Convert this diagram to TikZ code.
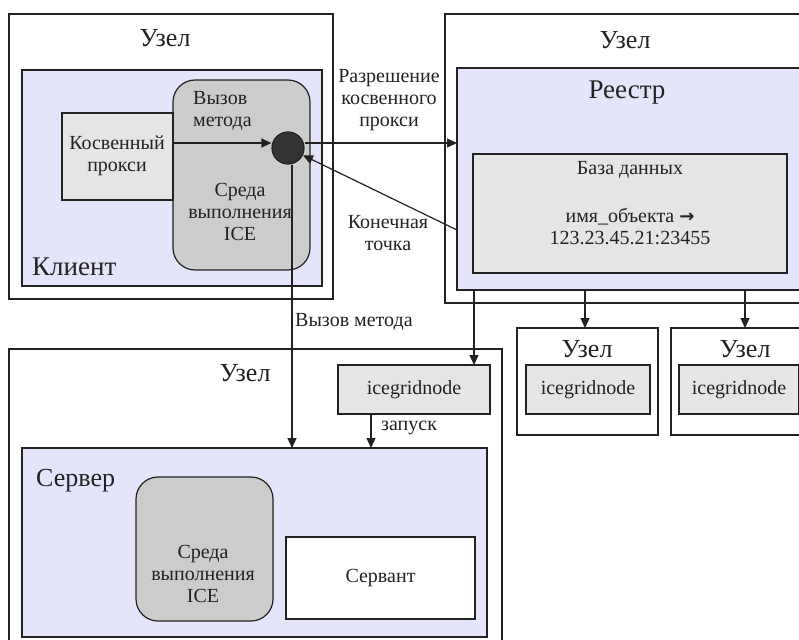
\documentclass[tikz,border=0pt]{standalone}
\usepackage{fontspec}
\setmainfont{Liberation Serif}
\newfontfamily\symfont{DejaVu Sans}
\usetikzlibrary{arrows.meta,calc}
\definecolor{lav}{RGB}{228,228,250}
\definecolor{lgray}{RGB}{229,229,229}
\definecolor{mgray}{RGB}{204,204,204}
\definecolor{dgray}{RGB}{51,51,51}
\definecolor{ink}{RGB}{34,34,34}
\tikzset{
 box/.style={draw=ink, line width=1.2pt, inner sep=0pt, outer sep=0pt, anchor=north west},
 nodebox/.style={box, fill=white},
 lavbox/.style={box, fill=lav},
 graybox/.style={box, fill=lgray},
 rtbox/.style={box, fill=mgray, rounded corners=22pt},
 arr/.style={draw=ink, line width=1.2pt, -{Triangle[length=10pt,width=9pt]}},
 txt/.style={text=ink, font=\fontsize{20}{22}\selectfont, inner sep=0pt, align=center},
 big/.style={text=ink, font=\fontsize{26}{28}\selectfont, inner sep=0pt},
}
\begin{document}
\begin{tikzpicture}[x=1pt,y=-1pt]
\useasboundingbox (0,0) rectangle (799,639);
\clip (0,0) rectangle (799,639);
% client node
\node[nodebox, minimum width=324pt, minimum height=285pt] (cnode) at (9,14) {};
\node[big] (cnodet) at (165,38) {Узел};
\node[lavbox, minimum width=300pt, minimum height=216pt] (client) at (22,70) {};
\node[big, anchor=west, font=\fontsize{27}{28}\selectfont] (clientt) at (32,267) {Клиент};
\node[rtbox, minimum width=137pt, minimum height=190pt] (crt) at (173,80) {};
\node[graybox, minimum width=111pt, minimum height=87pt] (proxy) at (62,113) {};
\node[txt] (proxyt) at (117,156) {Косвенный\\прокси};
\node[txt, anchor=west, align=left] (callt) at (193,111) {Вызов\\метода};
\node[txt] (crtt) at (240,212) {Среда\\выполнения\\ICE};
\node[circle, draw=ink, line width=1.2pt, fill=dgray, minimum size=32pt, inner sep=0pt] (circ) at (288,148) {};
% registry node
\node[nodebox, minimum width=370pt, minimum height=289pt] (rnode) at (445,14) {};
\node[big] (rnodet) at (625,40) {Узел};
\node[lavbox, minimum width=350pt, minimum height=222pt] (reg) at (457,68) {};
\node[big, font=\fontsize{27}{28}\selectfont] (regt) at (627,93) {Реестр};
\node[graybox, minimum width=314pt, minimum height=119pt] (db) at (473,154) {};
\node[txt] (dbt) at (630,170) {База данных};
\node[txt] (dbrec) at (630,226) {имя\_объекта {\symfont\bfseries\fontsize{18}{22}\selectfont →}\\123.23.45.21:23455};
% server node
\node[nodebox, minimum width=493pt, minimum height=300pt] (snode) at (9,349) {};
\node[big] (snodet) at (245,373) {Узел};
\node[graybox, minimum width=152pt, minimum height=49pt] (ig1) at (338,365) {};
\node[txt] (ig1t) at (ig1.center) {icegridnode};
\node[lavbox, minimum width=465pt, minimum height=189pt] (server) at (22,448) {};
\node[big, anchor=west] (servert) at (36,481) {Сервер};
\node[rtbox, minimum width=137pt, minimum height=144pt] (srt) at (136,477) {};
\node[txt] (srtt) at (203,574) {Среда\\выполнения\\ICE};
\node[nodebox, minimum width=189pt, minimum height=82pt] (servant) at (286,537) {};
\node[txt] (servantt) at (servant.center) {Сервант};
% small nodes
\node[nodebox, minimum width=141pt, minimum height=107pt] (n1) at (517,328) {};
\node[big] (n1t) at (587,349) {Узел};
\node[graybox, minimum width=124pt, minimum height=49pt] (ig2) at (526,365) {};
\node[txt] (ig2t) at (ig2.center) {icegridnode};
\node[nodebox, minimum width=140pt, minimum height=107pt] (n2) at (671,328) {};
\node[big] (n2t) at (745,349) {Узел};
\node[graybox, minimum width=120pt, minimum height=49pt] (ig3) at (679,365) {};
\node[txt] (ig3t) at (ig3.center) {icegridnode};
% connectors
\draw[arr] (proxy.east |- 0,143) -- (circ.west |- 0,143);
\draw[arr] (circ.east |- 0,143) -- (reg.west |- 0,143);
\draw[arr] (reg.west |- 0,230) -- (circ);
\draw[arr] ([xshift=4pt]circ.south) -- ([xshift=4pt]circ.south |- server.north);
\node[txt, anchor=west] (callt2) at (295,322) {Вызов метода};
\node[txt] (resolvet) at (389,100) {Разрешение\\косвенного\\прокси};
\node[txt] (endpt) at (388,233) {Конечная\\точка};
\draw[arr] (474,0 |- reg.south) -- (474,0 |- ig1.north);
\draw[arr] (585,0 |- reg.south) -- (585,0 |- n1.north);
\draw[arr] (745,0 |- reg.south) -- (745,0 |- n2.north);
\draw[arr] (371,0 |- ig1.south) -- (371,0 |- server.north);
\node[txt, anchor=west] (launcht) at (381,428) {запуск};
\end{tikzpicture}
\end{document}
